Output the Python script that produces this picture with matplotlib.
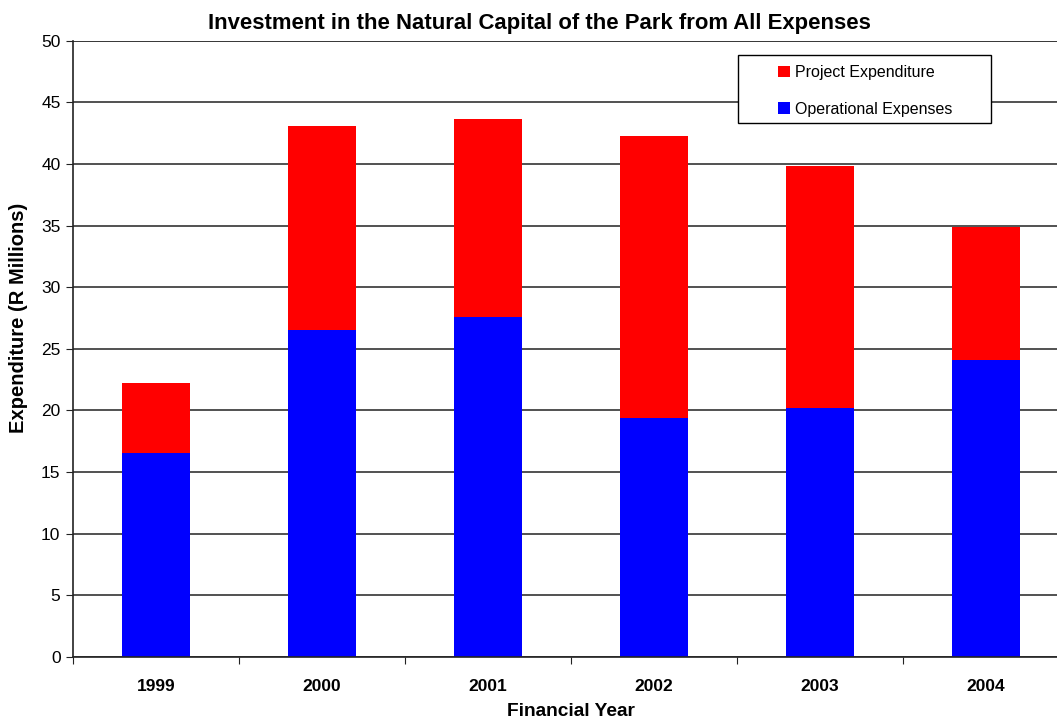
import numpy as np
import matplotlib
matplotlib.use("Agg")
import matplotlib.pyplot as plt
from matplotlib.patches import Rectangle

plt.rcParams["font.family"] = ["Liberation Sans", "DejaVu Sans"]

years = ["1999", "2000", "2001", "2002", "2003", "2004"]
operational = [16.51, 26.52, 27.60, 19.40, 20.21, 24.08]
project = [5.68, 16.53, 16.02, 22.89, 19.62, 10.82]

W, H = 1057, 721
fig = plt.figure(figsize=(W / 100, H / 100), dpi=100)
# plot area runs off the right edge of the canvas
ax = fig.add_axes([73 / W, 1 - 656.7 / H, 996 / W, 616 / H])

x = np.arange(len(years))
w = 0.41
ax.bar(x, operational, w, color="#0000ff", label="Operational Expenses", zorder=3)
ax.bar(x, project, w, bottom=operational, color="#ff0000", label="Project Expenditure", zorder=3)

ax.set_xlim(-0.5, 5.5)
ax.set_ylim(0, 50)
ax.set_yticks(np.arange(0, 51, 5))
ax.yaxis.grid(True, color="#222222", linewidth=1.1, zorder=0)
ax.axhline(50, color="#888888", linewidth=1.4, zorder=1)

ax.set_xticks(np.arange(-0.5, 6, 1))
ax.set_xticklabels([])
ax.set_xticks(x, minor=True)
ax.set_xticklabels(years, minor=True, fontweight="bold", fontsize=12.5)
ax.tick_params(axis="x", which="minor", length=0, pad=16)
ax.tick_params(axis="x", which="major", length=5, color="#222222", direction="out")
ax.tick_params(axis="y", length=5, color="#222222", labelsize=12.5, pad=4)

for s in ["top", "right"]:
    ax.spines[s].set_visible(False)
for s in ["left", "bottom"]:
    ax.spines[s].set_color("#222222")
    ax.spines[s].set_linewidth(1.2)
    ax.spines[s].set_zorder(4)

fig.text(539 / W, 1 - 23 / H, "Investment in the Natural Capital of the Park from All Expenses",
         ha="center", va="center", fontsize=15.9, fontweight="bold")
fig.text(571 / W, 1 - 712 / H, "Financial Year", ha="center", va="center",
         fontsize=13.8, fontweight="bold")
fig.text(19 / W, 1 - 318 / H, "Expenditure (R Millions)", ha="center", va="center",
         rotation=90, fontsize=14.5, fontweight="bold")

# legend box drawn by hand, entries placed inside it
box = Rectangle((738 / W, 1 - 123 / H), 253 / W, 68 / H, transform=fig.transFigure,
                facecolor="white", edgecolor="black", linewidth=1.0, zorder=5)
fig.add_artist(box)
handles, labels = ax.get_legend_handles_labels()
leg = fig.legend(handles[::-1], labels[::-1], loc="upper left",
                 bbox_to_anchor=(778 / W, 1 - 65 / H),
                 fontsize=11.5, frameon=False,
                 handlelength=0.75, handleheight=0.75, handletextpad=0.3,
                 labelspacing=1.35, borderpad=0, borderaxespad=0)
leg.set_zorder(6)

fig.savefig("out.png", dpi=100)
